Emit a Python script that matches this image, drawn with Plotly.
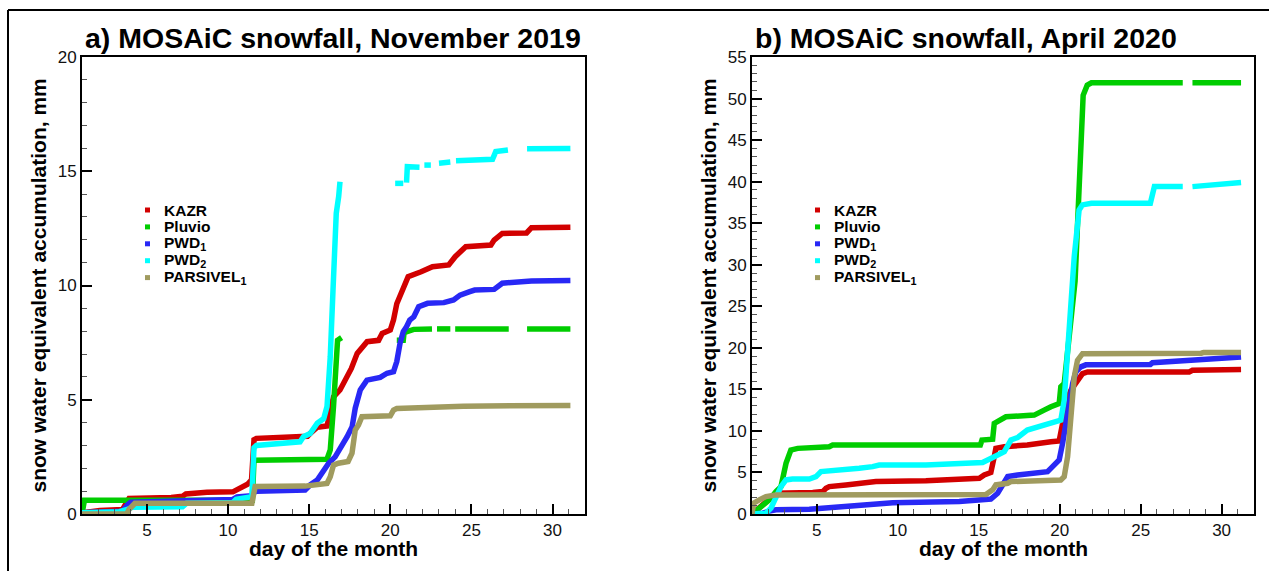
import plotly.graph_objects as go

W, H = 1269, 571

# ---------------- data: cumulative snow water equivalent (mm) vs day ----------------
SERIES = ["KAZR", "Pluvio", "PWD<sub>1</sub>", "PWD<sub>2</sub>", "PARSIVEL<sub>1</sub>"]
COLORS = ["rgb(210,0,0)", "rgb(0,205,0)", "rgb(40,40,245)", "rgb(0,255,255)", "rgb(160,155,95)"]

# November 2019 (None marks missing data)
NOV_KAZR = [(1.0, 0.05), (2.1, 0.15), (3.5, 0.2), (3.7, 0.45), (3.9, 0.68), (6.5, 0.72), (7.2, 0.78),
            (7.4, 0.88), (8.7, 0.95), (10.3, 0.97), (10.7, 1.1), (11.2, 1.3), (11.45, 1.5), (11.6, 3.25),
            (11.75, 3.31), (14.55, 3.35), (14.9, 3.4), (15.1, 3.55), (15.5, 3.8), (16.1, 3.85), (16.25, 4.26),
            (16.5, 5.13), (16.9, 5.43), (17.3, 5.95), (17.6, 6.37), (17.96, 7.03), (18.25, 7.29), (18.57, 7.54),
            (19.28, 7.6), (19.5, 7.9), (20.0, 8.05), (20.2, 8.5), (20.4, 9.2), (20.7, 9.66), (20.9, 9.95),
            (21.1, 10.39), (21.9, 10.6), (22.6, 10.82), (23.6, 10.9), (24.0, 11.26), (24.65, 11.7), (26.2, 11.77),
            (26.4, 11.99), (26.9, 12.28), (28.4, 12.3), (28.7, 12.53), (31.1, 12.55)]
NOV_PLUVIO = [(1.0, 0.0), (1.15, 0.6), (11.5, 0.6), (11.6, 2.35), (16.1, 2.4), (16.3, 2.8), (16.5, 4.7),
              (16.75, 7.6), (17.0, 7.72), None, (20.4, 7.6), (20.8, 7.6), (20.85, 7.94), (21.44, 8.08),
              (22.57, 8.1), None, (22.88, 8.1), (23.7, 8.1), None, (24.0, 8.1), (27.3, 8.1), None,
              (28.43, 8.1), (31.1, 8.1)]
NOV_PWD1 = [(1.0, 0.05), (3.5, 0.12), (3.8, 0.4), (4.0, 0.52), (7.4, 0.58), (10.3, 0.64), (10.55, 0.75),
            (11.45, 0.8), (11.6, 0.95), (11.75, 1.0), (14.75, 1.05), (15.06, 1.27), (15.5, 1.49), (15.78, 1.78),
            (16.2, 2.22), (16.6, 2.5), (17.0, 2.95), (17.34, 3.38), (17.65, 3.82), (17.84, 4.63), (18.15, 5.43),
            (18.56, 5.86), (19.38, 5.98), (19.8, 6.16), (20.2, 6.23), (20.4, 6.67), (20.6, 7.47), (20.8, 7.98),
            (21.0, 8.2), (21.2, 8.49), (21.45, 8.63), (21.75, 9.07), (22.3, 9.22), (23.3, 9.25), (23.9, 9.37),
            (24.3, 9.58), (24.9, 9.73), (25.2, 9.8), (26.4, 9.83), (26.9, 10.1), (28.7, 10.2), (31.1, 10.22)]
NOV_PWD2 = [(1.0, 0.05), (3.3, 0.1), (3.8, 0.2), (4.1, 0.3), (7.2, 0.32), (7.45, 0.47), (10.3, 0.5),
            (10.5, 0.64), (11.47, 0.76), (11.6, 2.9), (11.75, 3.0), (14.44, 3.16), (14.65, 3.38), (15.06, 3.52),
            (15.5, 3.97), (15.9, 4.18), (16.1, 4.7), (16.3, 6.88), (16.47, 9.8), (16.6, 11.55), (16.67, 13.16),
            (16.82, 13.9), (16.9, 14.54), None, (20.3, 14.47), (20.8, 14.47), None, (21.0, 14.5), (21.05, 15.2),
            (21.8, 15.18), None, (22.1, 15.27), (22.5, 15.27), None, (23.0, 15.35), (23.7, 15.4), None,
            (24.05, 15.46), (26.3, 15.52), (26.5, 15.86), (27.25, 15.93), None, (28.43, 15.99), (31.1, 16.0)]
NOV_PARSIVEL = [(1.0, 0.0), (3.76, 0.0), (3.9, 0.2), (4.26, 0.47), (11.47, 0.47), (11.67, 1.2), (14.75, 1.22),
                (16.1, 1.34), (16.3, 1.63), (16.5, 2.14), (16.8, 2.22), (17.4, 2.3), (17.64, 2.66), (17.84, 3.68),
                (18.04, 3.9), (18.25, 4.26), (20.0, 4.3), (20.2, 4.55), (20.4, 4.62), (22.06, 4.65), (23.7, 4.67),
                (24.5, 4.72), (31.1, 4.75)]

# April 2020
APR_KAZR = [(1.0, 0.0), (1.45, 0.7), (2.07, 1.8), (2.48, 2.5), (4.75, 2.6), (5.37, 2.7), (5.57, 3.1),
            (5.77, 3.3), (6.8, 3.5), (7.62, 3.7), (8.65, 3.9), (11.74, 4.0), (13.8, 4.1), (15.04, 4.3),
            (15.34, 4.7), (15.75, 5.0), (15.96, 6.9), (16.06, 7.9), (16.58, 8.1), (18.0, 8.3), (19.46, 8.7),
            (19.97, 8.8), (20.18, 10.9), (20.38, 13.3), (20.69, 14.9), (20.9, 15.5), (21.1, 16.1), (21.41, 16.9),
            (21.72, 17.1), (28.0, 17.1), (28.2, 17.3), (31.2, 17.4)]
APR_PLUVIO = [(1.0, 0.0), (1.45, 0.7), (2.07, 1.7), (2.48, 2.7), (2.79, 3.3), (3.1, 6.1), (3.4, 7.7),
              (3.82, 7.9), (4.75, 8.0), (5.77, 8.1), (5.98, 8.3), (15.1, 8.3), (15.2, 8.9), (15.86, 9.0),
              (15.96, 10.9), (16.27, 11.3), (16.68, 11.7), (18.43, 11.9), (18.74, 12.3), (19.04, 12.5),
              (19.46, 12.9), (19.77, 13.1), (19.97, 13.3), (20.07, 15.3), (20.28, 15.7), (20.95, 28.0),
              (21.45, 50.4), (21.7, 51.6), (21.96, 51.9), (27.6, 51.9), None, (28.2, 51.9), (31.2, 51.9)]
APR_PWD1 = [(1.0, 0.0), (1.66, 0.1), (2.07, 0.35), (2.48, 0.5), (4.54, 0.56), (5.37, 0.68), (5.98, 0.9),
            (7.62, 1.1), (8.86, 1.2), (9.69, 1.36), (13.8, 1.5), (14.83, 1.7), (15.75, 1.8), (16.17, 2.5),
            (16.5, 3.6), (16.79, 4.5), (17.4, 4.7), (18.43, 4.9), (19.25, 5.1), (19.56, 5.7), (19.97, 6.5),
            (20.18, 8.5), (20.38, 10.9), (20.59, 13.3), (20.8, 15.7), (21.0, 17.1), (21.3, 17.7), (21.62, 17.95),
            (25.6, 18.0), (25.73, 18.2), (28.24, 18.5), (31.2, 18.9)]
APR_PWD2 = [(1.0, 0.0), (1.86, 0.1), (2.17, 0.7), (2.48, 2.1), (2.79, 3.3), (3.1, 4.1), (3.5, 4.2),
            (4.54, 4.2), (4.95, 4.5), (5.26, 5.1), (6.18, 5.2), (7.62, 5.5), (8.45, 5.7), (8.86, 5.9),
            (11.74, 5.9), (13.8, 6.0), (15.24, 6.2), (15.96, 6.9), (16.58, 7.5), (16.99, 8.9), (17.4, 9.2),
            (18.0, 10.1), (18.64, 10.5), (19.46, 10.9), (20.07, 11.3), (20.28, 13.7), (20.59, 22.9),
            (20.9, 31.0), (21.2, 36.6), (21.4, 37.2), (21.96, 37.4), (25.6, 37.4), (25.85, 39.4), (27.6, 39.4),
            None, (28.2, 39.4), (28.8, 39.5), (31.2, 39.9)]
APR_PARSIVEL = [(1.0, 0.0), (1.1, 1.3), (1.45, 1.7), (1.86, 2.1), (2.48, 2.3), (15.44, 2.35), (15.86, 2.9),
                (16.06, 3.5), (16.79, 3.7), (16.99, 3.9), (20.07, 4.1), (20.28, 4.5), (20.49, 6.9), (20.7, 12.9),
                (20.9, 16.5), (21.1, 18.5), (21.41, 19.3), (28.75, 19.35), (28.9, 19.45), (31.2, 19.45)]

PANELS = [
    dict(title="a) MOSAiC snowfall, November 2019", ymax=20,
         series=[NOV_KAZR, NOV_PLUVIO, NOV_PWD1, NOV_PWD2, NOV_PARSIVEL]),
    dict(title="b) MOSAiC snowfall, April 2020", ymax=55,
         series=[APR_KAZR, APR_PLUVIO, APR_PWD1, APR_PWD2, APR_PARSIVEL]),
]
DAY_RANGE = [1, 32]

# ---------------- layout geometry (pixels) ----------------
PLOT_X = [(82, 585), (752, 1254)]
PLOT_TOP, PLOT_BOTTOM = 57, 514
FONT = "Liberation Sans, Arial, Helvetica, sans-serif"


def fx(p):
    return p / W


def fy(p):
    return 1 - p / H


def split(points):
    xs, ys = [], []
    for pt in points:
        if pt is None:
            xs.append(None)
            ys.append(None)
        else:
            xs.append(pt[0])
            ys.append(pt[1])
    return xs, ys


fig = go.Figure()
annotations = []
shapes = []

for i, panel in enumerate(PANELS):
    sfx = "" if i == 0 else str(i + 1)
    left, right = PLOT_X[i]
    for name, color, pts in zip(SERIES, COLORS, panel["series"]):
        xs, ys = split(pts)
        fig.add_trace(go.Scatter(x=xs, y=ys, mode="lines", name=name, showlegend=False,
                                 line=dict(color=color, width=5.5), connectgaps=False,
                                 xaxis="x" + sfx, yaxis="y" + sfx, hoverinfo="skip"))

    axis_common = dict(showline=True, linecolor="black", linewidth=2, mirror=True,
                       ticks="inside", ticklen=10, tickwidth=2, tickcolor="black",
                       showgrid=False, zeroline=False, automargin=False,
                       tickfont=dict(family=FONT, size=17, color="#111"),
                       minor=dict(ticks="inside", ticklen=5, tickwidth=1, tickcolor="#555", dtick=1,
                                  showgrid=False))
    fig.update_layout(**{
        "xaxis" + sfx: dict(axis_common, domain=[fx(left), fx(right)], range=DAY_RANGE,
                            tick0=0, dtick=5, anchor="y" + sfx),
        "yaxis" + sfx: dict(axis_common, domain=[fy(PLOT_BOTTOM), fy(PLOT_TOP)], range=[0, panel["ymax"]],
                            tick0=0, dtick=5, anchor="x" + sfx),
    })

    # panel title
    annotations.append(dict(text="<b>%s</b>" % panel["title"], xref="paper", yref="paper",
                            x=fx(left + 1), y=fy(38), xanchor="left", yanchor="middle", showarrow=False,
                            font=dict(family=FONT, size=28.5, color="black")))
    # axis titles
    annotations.append(dict(text="<b>day of the month</b>", xref="paper", yref="paper",
                            x=fx((left + right) / 2), y=fy(548), xanchor="center", yanchor="middle",
                            showarrow=False, font=dict(family=FONT, size=21, color="black")))
    annotations.append(dict(text="<b>snow water equivalent accumulation, mm</b>", xref="paper", yref="paper",
                            x=fx(left - 44), y=fy((PLOT_TOP + PLOT_BOTTOM) / 2), xanchor="center",
                            yanchor="middle", textangle=-90, showarrow=False,
                            font=dict(family=FONT, size=21, color="black")))

    # legend: small square swatch + bold label
    for k, (name, color) in enumerate(zip(SERIES, COLORS)):
        yc = 210 + k * 16.9
        mx = left + 65.5
        shapes.append(dict(type="rect", xref="paper", yref="paper",
                           x0=fx(mx - 2.5), x1=fx(mx + 2.5), y0=fy(yc + 2.5), y1=fy(yc - 2.5),
                           fillcolor=color, line=dict(width=0)))
        annotations.append(dict(text="<b>%s</b>" % name, xref="paper", yref="paper",
                                x=fx(left + 80), y=fy(yc), xanchor="left", yanchor="middle",
                                showarrow=False, font=dict(family=FONT, size=15.5, color="black")))

# outer frame (top and left edges visible)
shapes.append(dict(type="line", xref="paper", yref="paper", x0=fx(8), x1=fx(W + 5), y0=fy(10), y1=fy(10),
                   line=dict(color="black", width=2)))
shapes.append(dict(type="line", xref="paper", yref="paper", x0=fx(8), x1=fx(8), y0=fy(10), y1=fy(H + 5),
                   line=dict(color="black", width=2)))

fig.update_layout(template="none", width=W, height=H, margin=dict(l=0, r=0, t=0, b=0, pad=0),
                  paper_bgcolor="white", plot_bgcolor="white",
                  annotations=annotations, shapes=shapes, showlegend=False)

fig.write_html("out.html", config=dict(displayModeBar=False))
